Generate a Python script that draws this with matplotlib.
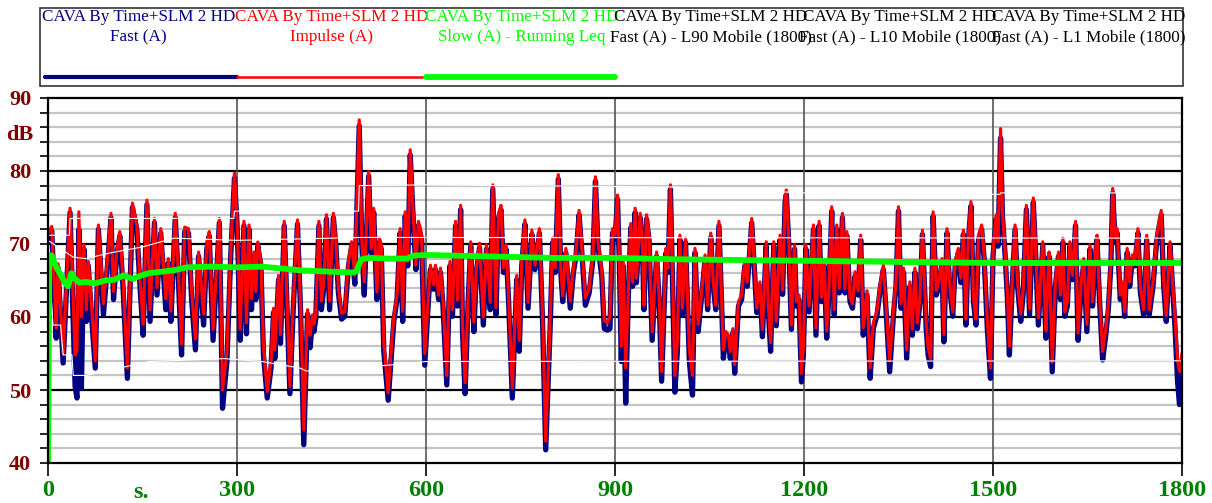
import matplotlib
matplotlib.use("Agg")
import matplotlib.pyplot as plt
from matplotlib.patches import Rectangle

# ---------------- data ----------------
time_s = [0, 6, 13, 16, 24, 35, 43, 46, 49, 53, 57, 61, 64, 68, 75, 80, 88, 96, 100, 104,
          109, 114, 119, 126, 134, 141, 146, 151, 157, 162, 169, 173, 179, 187, 191, 195, 202, 207, 212, 217,
          223, 228, 234, 239, 247, 252, 256, 262, 272, 277, 284, 290, 296, 300, 302, 305, 311, 315, 319, 323,
          327, 330, 333, 338, 342, 348, 354, 358, 360, 366, 369, 375, 379, 384, 389, 396, 401, 406, 412, 416,
          420, 422, 425, 430, 434, 438, 442, 447, 453, 457, 461, 466, 471, 477, 482, 487, 494, 498, 502, 509,
          513, 517, 522, 526, 529, 533, 540, 546, 549, 554, 559, 563, 567, 571, 575, 580, 584, 588, 593, 598,
          604, 607, 612, 615, 620, 623, 627, 633, 638, 642, 647, 650, 655, 658, 662, 667, 671, 676, 680, 685,
          691, 696, 702, 706, 711, 715, 719, 723, 727, 731, 737, 744, 748, 752, 757, 762, 768, 773, 780, 785,
          790, 797, 801, 805, 810, 814, 817, 822, 829, 834, 838, 843, 847, 853, 859, 865, 869, 873, 879, 883,
          888, 892, 896, 900, 904, 907, 910, 913, 917, 921, 925, 928, 932, 934, 940, 944, 946, 950, 954, 959,
          966, 970, 974, 981, 984, 988, 991, 995, 999, 1003, 1007, 1012, 1018, 1023, 1027, 1032, 1037, 1043, 1047, 1052,
          1056, 1060, 1065, 1069, 1072, 1076, 1080, 1083, 1087, 1090, 1096, 1101, 1106, 1110, 1117, 1121, 1125, 1130, 1134, 1140,
          1143, 1147, 1152, 1156, 1162, 1166, 1170, 1172, 1176, 1180, 1185, 1188, 1192, 1196, 1199, 1203, 1208, 1215, 1219, 1224,
          1228, 1232, 1236, 1240, 1244, 1248, 1252, 1256, 1261, 1265, 1268, 1273, 1277, 1281, 1286, 1290, 1294, 1300, 1305, 1310,
          1316, 1321, 1326, 1330, 1336, 1342, 1346, 1350, 1354, 1358, 1363, 1368, 1372, 1376, 1380, 1384, 1388, 1394, 1397, 1401,
          1405, 1410, 1414, 1419, 1422, 1427, 1431, 1436, 1440, 1445, 1449, 1453, 1457, 1461, 1465, 1469, 1473, 1477, 1482, 1486,
          1491, 1496, 1500, 1505, 1508, 1512, 1515, 1519, 1523, 1526, 1530, 1535, 1539, 1544, 1548, 1553, 1558, 1564, 1568, 1572,
          1579, 1584, 1586, 1589, 1594, 1599, 1604, 1607, 1611, 1614, 1618, 1622, 1626, 1631, 1635, 1640, 1644, 1649, 1654, 1658,
          1662, 1665, 1669, 1674, 1679, 1683, 1687, 1690, 1694, 1697, 1702, 1706, 1709, 1713, 1717, 1721, 1725, 1730, 1734, 1739,
          1744, 1748, 1754, 1760, 1764, 1767, 1771, 1775, 1781, 1785, 1789, 1793, 1796, 1800]

fast_dba = [70.5, 71.8, 57.1, 66.7, 53.7, 74.3, 50.5, 48.9, 72.0, 50.2, 69.3, 59.4, 67.0, 61.5, 53.0, 72.0, 60.3, 68.8, 73.6, 62.4,
            68.3, 71.1, 64.2, 51.6, 75.0, 72.0, 64.2, 57.5, 75.4, 59.4, 72.9, 63.0, 71.5, 61.0, 67.4, 59.4, 73.6, 65.1, 54.8, 71.7,
            71.5, 62.4, 55.5, 68.3, 58.9, 69.3, 71.1, 56.8, 72.9, 47.5, 53.9, 68.3, 79.0, 72.9, 67.4, 56.8, 72.5, 57.7, 72.0, 61.0,
            68.3, 62.4, 69.7, 67.0, 54.8, 48.9, 53.0, 60.6, 54.3, 65.1, 56.4, 72.5, 62.4, 49.5, 60.6, 72.7, 60.6, 42.5, 60.4, 55.8,
            59.7, 58.0, 59.7, 72.5, 61.0, 64.2, 73.4, 61.0, 73.6, 69.7, 63.3, 59.7, 60.1, 67.0, 69.7, 64.5, 86.2, 70.2, 63.0, 79.3,
            68.8, 74.3, 62.4, 70.2, 69.3, 55.3, 48.6, 56.0, 59.5, 62.4, 71.5, 59.4, 73.8, 67.0, 82.2, 72.9, 66.5, 72.5, 70.6, 53.4,
            62.4, 66.5, 63.8, 66.5, 62.4, 66.1, 61.5, 50.7, 67.0, 60.1, 72.5, 61.5, 74.7, 57.8, 49.5, 62.4, 69.7, 58.0, 66.1, 69.5,
            58.9, 69.3, 61.0, 77.5, 60.3, 73.4, 74.7, 66.1, 69.3, 62.4, 48.9, 65.1, 55.3, 67.0, 72.7, 61.2, 71.3, 66.5, 71.5, 59.4,
            41.8, 58.4, 70.2, 66.1, 78.9, 66.1, 62.1, 68.8, 61.2, 66.1, 68.3, 74.0, 69.3, 61.6, 63.3, 67.9, 78.6, 69.7, 65.6, 58.4,
            58.2, 58.4, 71.5, 70.6, 76.1, 67.0, 53.9, 67.0, 48.2, 62.4, 72.2, 64.2, 74.3, 64.7, 73.6, 68.3, 61.0, 73.4, 70.6, 56.8,
            68.3, 62.4, 51.2, 68.8, 66.1, 77.5, 66.1, 49.7, 55.3, 70.6, 60.3, 70.2, 53.9, 49.3, 68.8, 58.0, 62.4, 67.9, 61.0, 70.9,
            64.2, 61.0, 72.5, 62.4, 54.3, 57.4, 56.9, 54.3, 57.8, 52.3, 61.5, 62.4, 67.0, 64.2, 72.9, 67.0, 60.6, 64.2, 57.3, 69.7,
            61.5, 55.3, 69.7, 58.8, 70.6, 63.1, 75.7, 76.8, 69.7, 58.3, 69.3, 61.5, 62.4, 51.1, 54.8, 69.3, 60.7, 72.0, 57.5, 72.5,
            62.1, 67.0, 57.1, 64.2, 74.5, 60.3, 72.0, 63.3, 73.6, 63.3, 71.1, 62.1, 61.2, 65.6, 63.0, 70.6, 57.5, 63.0, 51.6, 58.4,
            60.3, 63.9, 66.5, 61.2, 52.5, 60.3, 64.2, 74.5, 61.2, 66.1, 54.3, 64.2, 57.5, 66.1, 58.4, 62.1, 71.3, 58.4, 54.8, 53.2,
            73.8, 63.0, 64.2, 67.4, 56.6, 71.5, 64.2, 60.1, 67.0, 68.8, 64.7, 71.3, 58.9, 70.6, 75.2, 62.1, 58.9, 70.6, 72.0, 67.9,
            58.4, 51.6, 68.3, 73.4, 69.7, 84.5, 73.8, 68.8, 62.4, 54.8, 63.3, 72.0, 64.2, 59.4, 63.3, 74.7, 60.3, 75.7, 67.9, 58.9,
            69.7, 57.1, 62.4, 68.3, 52.5, 64.2, 68.3, 62.4, 70.2, 60.1, 61.5, 69.7, 65.1, 72.5, 56.8, 64.2, 67.4, 58.0, 69.3, 61.5,
            67.4, 70.6, 62.4, 54.1, 57.5, 61.0, 67.0, 77.0, 70.2, 71.5, 62.4, 64.2, 60.1, 68.8, 64.2, 67.9, 67.0, 71.5, 63.3, 60.3,
            70.6, 60.3, 64.2, 70.6, 72.5, 74.0, 64.2, 59.4, 69.7, 64.2, 58.4, 51.1, 48.0, 53.0]

impulse_dba = [71.5, 72.4, 58.5, 67.3, 55.0, 74.9, 54.8, 55.5, 74.4, 60.0, 69.9, 61.0, 67.6, 63.0, 54.0, 72.6, 61.8, 69.4, 74.2, 63.5,
               68.9, 71.7, 65.2, 53.0, 75.6, 72.6, 65.2, 59.0, 76.0, 61.0, 73.5, 64.0, 72.1, 62.5, 68.0, 60.8, 74.2, 66.0, 56.3, 72.3,
               72.1, 63.5, 57.0, 68.9, 60.4, 69.9, 71.7, 58.3, 73.5, 50.0, 55.2, 68.9, 79.7, 73.5, 68.0, 58.3, 73.1, 59.2, 72.6, 62.5,
               68.9, 63.5, 70.3, 67.6, 56.0, 49.8, 54.0, 61.2, 55.5, 65.7, 57.6, 73.1, 63.5, 50.5, 61.5, 73.3, 61.5, 44.5, 61.0, 57.5,
               60.3, 59.0, 60.3, 73.1, 62.2, 64.8, 74.0, 62.2, 74.2, 70.3, 63.9, 60.5, 60.7, 67.6, 70.3, 65.7, 87.0, 70.8, 64.8, 79.9,
               69.4, 74.9, 63.4, 70.8, 69.9, 56.5, 49.6, 57.0, 60.1, 63.0, 72.1, 60.8, 74.4, 67.6, 82.9, 73.5, 67.1, 73.1, 71.2, 55.0,
               63.0, 67.1, 64.4, 67.1, 63.0, 66.7, 62.3, 52.0, 67.6, 61.0, 73.1, 62.3, 75.3, 59.0, 51.0, 63.0, 70.3, 59.3, 66.7, 70.1,
               60.0, 69.9, 62.0, 78.1, 61.3, 74.0, 75.3, 66.7, 69.9, 63.0, 50.3, 65.7, 56.8, 67.6, 73.3, 62.0, 71.9, 67.1, 72.1, 60.6,
               43.0, 59.5, 70.8, 66.7, 79.5, 66.7, 62.9, 69.4, 62.2, 66.7, 68.9, 74.6, 69.9, 62.6, 63.9, 68.5, 79.2, 70.3, 66.2, 59.5,
               59.2, 60.1, 72.1, 71.2, 76.7, 67.6, 56.0, 67.6, 53.0, 63.0, 72.8, 64.8, 74.9, 65.3, 74.2, 68.9, 61.6, 74.0, 71.2, 58.0,
               68.9, 63.0, 52.5, 69.4, 66.7, 78.1, 66.7, 52.0, 56.5, 71.2, 61.2, 70.8, 55.5, 52.0, 69.4, 59.0, 63.0, 68.5, 61.6, 71.5,
               64.8, 61.6, 73.1, 63.0, 55.5, 58.0, 57.5, 55.3, 58.4, 53.5, 62.1, 63.0, 67.6, 64.8, 73.5, 67.6, 61.2, 64.8, 58.3, 70.3,
               62.1, 56.5, 70.3, 59.4, 71.2, 63.7, 76.3, 77.4, 70.3, 58.9, 69.9, 62.1, 63.0, 52.3, 56.0, 69.9, 61.5, 72.6, 58.5, 73.1,
               62.7, 67.6, 58.1, 64.8, 75.1, 61.0, 72.6, 63.9, 74.2, 63.9, 71.7, 62.7, 61.8, 66.2, 63.6, 71.2, 58.5, 63.6, 53.0, 59.2,
               60.9, 64.5, 67.1, 61.8, 54.0, 61.0, 64.8, 75.1, 61.8, 66.7, 55.5, 64.8, 58.3, 66.7, 59.2, 62.7, 71.9, 59.2, 55.8, 54.3,
               74.4, 63.6, 64.8, 68.0, 57.6, 72.1, 64.8, 60.7, 67.6, 69.4, 65.3, 71.9, 59.7, 71.2, 75.8, 62.7, 59.7, 71.2, 72.6, 68.5,
               59.4, 53.0, 68.9, 74.0, 70.3, 85.8, 74.4, 69.4, 63.0, 56.0, 63.9, 72.6, 64.8, 60.4, 63.9, 75.3, 61.1, 76.3, 68.5, 59.9,
               70.3, 58.1, 63.0, 68.9, 53.8, 64.8, 68.9, 63.0, 70.8, 60.7, 62.1, 70.3, 65.7, 73.1, 57.8, 64.8, 68.0, 59.0, 69.9, 62.1,
               68.0, 71.2, 63.0, 55.3, 58.3, 61.6, 67.6, 77.6, 70.8, 72.1, 63.0, 64.8, 60.7, 69.4, 64.8, 68.5, 67.6, 72.1, 63.9, 61.0,
               71.2, 61.0, 64.8, 71.2, 73.1, 74.6, 64.8, 60.2, 70.3, 64.8, 60.0, 54.0, 52.5, 55.0]

leq_t = [0, 2, 6, 12, 20, 28, 32, 37, 42, 50, 60, 75, 90, 105, 120, 135, 145, 160, 180, 200,
         220, 260, 300, 340, 400, 450, 485, 490, 497, 510, 540, 570, 580, 600, 700, 800, 900, 1000, 1100, 1200,
         1300, 1400, 1500, 1600, 1700, 1800]
leq_dba = [40.0, 68.5, 68.4, 67.0, 65.8, 64.5, 64.2, 66.0, 65.3, 64.7, 64.8, 64.6, 65.0, 65.1, 65.7, 65.2, 65.6, 66.0, 66.2, 66.4,
           66.8, 66.9, 66.8, 66.9, 66.4, 66.2, 66.1, 66.3, 67.9, 68.1, 68.0, 68.0, 68.4, 68.5, 68.3, 68.1, 68.1, 67.9, 67.8, 67.7,
           67.6, 67.5, 67.4, 67.4, 67.4, 67.4]

l1_t = [0, 34, 35, 295, 296, 493, 494, 600, 1000, 1200, 1511, 1512, 1800]
l1_dba = [71.2, 71.2, 73.5, 73.5, 74.5, 74.5, 78.0, 78.1, 77.8, 77.0, 76.8, 77.0, 77.0]
l10_t = [0, 40, 60, 100, 150, 200, 300, 500, 1800]
l10_dba = [70.5, 68.2, 68.0, 68.8, 69.6, 70.8, 70.5, 70.9, 70.8]
l90_t = [0, 8, 20, 24, 38, 40, 60, 160, 280, 340, 400, 410, 540, 600, 1800]
l90_dba = [69.0, 58.9, 58.9, 54.8, 54.8, 52.0, 52.0, 53.9, 54.3, 53.9, 53.0, 52.6, 53.4, 53.9, 54.0]

x_ticks = [0, 300, 600, 900, 1200, 1500, 1800]
y_major = [40, 50, 60, 70, 80, 90]

legend_line1 = "CAVA By Time+SLM 2 HD"
legend_line2 = ["Fast (A)", "Impulse (A)", "Slow (A) - Running Leq",
                "Fast (A) - L90 Mobile (1800)", "Fast (A) - L10 Mobile (1800)", "Fast (A) - L1 Mobile (1800)"]
legend_colors = ["#000080", "#ff0000", "#00ff00", "#000000", "#000000", "#000000"]

# ---------------- figure ----------------
W, H = 1212, 503
fig = plt.figure(figsize=(W / 100, H / 100), dpi=100)
plt.rcParams['font.family'] = ['Liberation Serif', 'DejaVu Serif']

ax = fig.add_axes([48 / W, 1 - 463 / H, 1134 / W, 365 / H])
ax.set_xlim(0, 1800)
ax.set_ylim(40, 90)

# grid
for v in range(42, 90, 2):
    if v % 10:
        ax.axhline(v, color="#c4c4c4", lw=1.6, zorder=1)
for v in y_major[1:-1]:
    ax.axhline(v, color="#000000", lw=1.6, zorder=1.5)
for v in x_ticks[1:-1]:
    ax.axvline(v, color="#555555", lw=1.2, zorder=1.5)

ax.plot(time_s, fast_dba, color="#000080", lw=3.8, zorder=3, solid_joinstyle="round")
ax.plot(time_s, impulse_dba, color="#ff0000", lw=2.3, zorder=4, solid_joinstyle="round")
ax.plot(l90_t, l90_dba, color="white", lw=0.8, zorder=5)
ax.plot(l10_t, l10_dba, color="white", lw=0.8, zorder=5)
ax.plot(l1_t, l1_dba, color="white", lw=0.8, zorder=5)
ax.plot(leq_t, leq_dba, color="#00ff00", lw=4.2, zorder=6, solid_capstyle="butt")

for s in ax.spines.values():
    s.set_color("black")
    s.set_linewidth(1.6)
    s.set_zorder(7)

ax.set_yticks(list(range(40, 91, 2)))
ax.set_yticklabels([str(v) if v % 10 == 0 else "" for v in range(40, 91, 2)])
ax.set_xticks(x_ticks)
ax.set_xticklabels([str(v) for v in x_ticks])
ax.tick_params(axis="y", direction="out", length=6, width=1.2, pad=6,
               labelsize=16, labelcolor="#800000")
ax.tick_params(axis="x", direction="out", length=9, width=1.2, pad=3,
               labelsize=17.5, labelcolor="#008000")
for lab in ax.get_yticklabels() + ax.get_xticklabels():
    lab.set_fontweight("bold")

fig.text(20 / W, 1 - 135 / H, "dB", color="#800000", fontsize=16, fontweight="bold",
         ha="center", va="center")
fig.text(141 / W, 1 - 492 / H, "s.", color="#008000", fontsize=17.5, fontweight="bold",
         ha="center", va="center")

# legend area (pixel coordinates)
lax = fig.add_axes([0, 0, 1, 1], zorder=10)
lax.set_xlim(0, W)
lax.set_ylim(H, 0)
lax.axis("off")
lax.add_patch(Rectangle((40, 8), 1143, 78, fill=False, edgecolor="#333333", lw=1.2))
col_edges = [40, 237, 427, 617, 805, 995, 1183]
for i in range(6):
    cx = (col_edges[i] + col_edges[i + 1]) / 2
    lax.text(cx, 17, legend_line1, color=legend_colors[i], fontsize=12.3, ha="center", va="center")
    lax.text(cx, 37, legend_line2[i], color=legend_colors[i], fontsize=12.3, ha="center", va="center")
lax.plot([45, 237], [77, 77], color="#000080", lw=3.0, solid_capstyle="round")
lax.plot([237, 423], [77, 77], color="#ff0000", lw=1.8)
lax.plot([426, 615], [77, 77], color="#00ff00", lw=4.2, solid_capstyle="round")

fig.savefig("out.png", dpi=100)
